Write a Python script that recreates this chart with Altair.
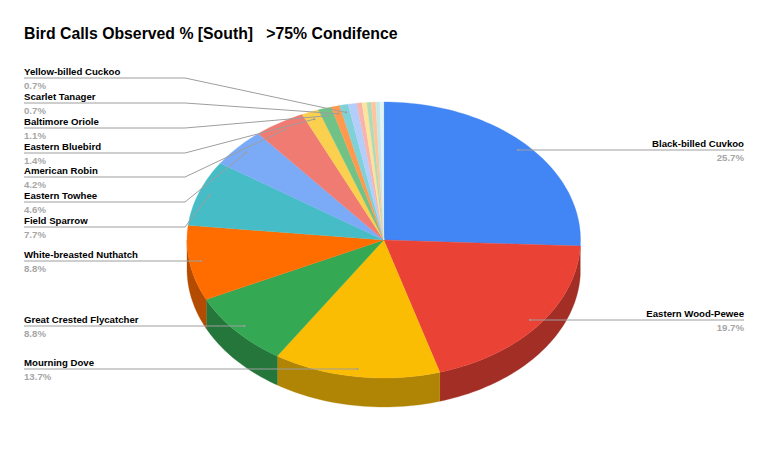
import math
import altair as alt
import pandas as pd

# --- chart values ---
names = ["Black-billed Cuvkoo", "Eastern Wood-Pewee", "Mourning Dove", "Great Crested Flycatcher",
         "White-breasted Nuthatch", "Field Sparrow", "Eastern Towhee", "American Robin",
         "Eastern Bluebird", "Baltimore Oriole", "Scarlet Tanager", "Yellow-billed Cuckoo",
         "Other A", "Other B", "Other C", "Other D", "Other E", "Other F", "Other G"]
shares = [25.7, 19.7, 13.7, 8.8, 8.8, 7.7, 4.6, 4.2, 1.4, 1.1, 0.7, 0.7, 0.7, 0.43, 0.4, 0.35, 0.37, 0.34, 0.31]
colors = ["#4285f4", "#ea4335", "#fbbc04", "#34a853", "#ff6d01", "#46bdc6", "#7baaf7", "#f07b72",
          "#fcd04f", "#71c287", "#ff994d", "#7ed1d7", "#b3cefb", "#f7b4ae", "#fde49b", "#aedcba",
          "#ffc599", "#c4e8ea", "#e3f2f3"]
walls = {1: "#a32e25", 2: "#b08404", 3: "#24763a", 4: "#b34c00"}
labelled = 12

# --- layout of the picture (reference pixels) ---
CX, CY, RX, RY, DEPTH = 383.75, 240.0, 196.75, 138.0, 29.0
LEADER_R = 0.944
left_rows = {11: 78, 10: 103, 9: 128, 8: 153, 7: 177, 6: 202, 5: 227, 4: 261, 3: 326, 2: 369}
right_rows = {0: 150, 1: 320}
LEFT_X, ELBOW_X, RIGHT_X = 24, 185, 744
W, H = 752, 459

x_scale = alt.Scale(domain=[8, 8 + W], range=[0, W], nice=False, zero=False)
y_scale = alt.Scale(domain=[8, 8 + H], range=[0, H], nice=False, zero=False)
X = alt.X("x:Q", scale=x_scale, axis=None)
Y = alt.Y("y:Q", scale=y_scale, axis=None)


def ell(deg, r=1.0, dy=0.0):
    a = math.radians(deg)
    return CX + RX * r * math.sin(a), CY - RY * r * math.cos(a) + dy


def polygon(points, colour):
    df = pd.DataFrame([{"x": p[0], "y": p[1], "i": i} for i, p in enumerate(points + points[:1])])
    return alt.Chart(df).mark_line(fill=colour, stroke=colour, strokeWidth=0.3, interpolate="linear").encode(
        x=X, y=Y, order="i:Q")


layers = []
cum = 0.0
bounds = []
for s in shares:
    bounds.append((cum * 3.6, (cum + s) * 3.6))
    cum += s
scale_full = 100.0 / cum
bounds = [(a * scale_full, b * scale_full) for a, b in bounds]


def arc_pts(a, b, dy=0.0):
    n = max(2, int(abs(b - a) / 1.5) + 2)
    return [ell(a + (b - a) * k / (n - 1), 1.0, dy) for k in range(n)]


for i, colour in walls.items():
    a, b = bounds[i]
    b = min(b, 270.0)
    layers.append(polygon(arc_pts(a, b) + arc_pts(b, a, DEPTH), colour))

for (a, b), colour in zip(bounds, colors):
    layers.append(polygon([(CX, CY)] + arc_pts(a, b), colour))

# leaders and labels
seg_rows, dot_rows, name_rows, value_rows = [], [], [], []
for i in range(labelled):
    mid = sum(bounds[i]) / 2
    px, py = ell(mid, LEADER_R)
    if i in right_rows:
        ly = right_rows[i]
        path = [(RIGHT_X, ly), (px, ly)]
        tx, align = RIGHT_X, "right"
    else:
        ly = left_rows[i]
        if i <= 4:
            path = [(LEFT_X, ly), (px, ly)]
        else:
            path = [(LEFT_X, ly), (ELBOW_X, ly), (px, py)]
        tx, align = LEFT_X, "left"
    for k, p in enumerate(path):
        seg_rows.append({"x": p[0], "y": p[1], "k": k, "id": i})
    dot_rows.append({"x": path[-1][0], "y": path[-1][1]})
    name_rows.append({"x": tx, "y": ly - 3, "t": names[i], "a": align})
    value_rows.append({"x": tx, "y": ly + 10.5, "t": f"{shares[i]}%", "a": align})

layers.append(alt.Chart(pd.DataFrame(seg_rows)).mark_line(color="#9e9e9e", strokeWidth=1).encode(
    x=X, y=Y, order="k:Q", detail="id:N"))
layers.append(alt.Chart(pd.DataFrame(dot_rows)).mark_point(filled=True, color="#9e9e9e", size=5, opacity=1).encode(x=X, y=Y))

for rows, col, weight in ((name_rows, "#000000", "bold"), (value_rows, "#a6a6a6", "bold")):
    for al in ("left", "right"):
        sub = [r for r in rows if r["a"] == al]
        layers.append(alt.Chart(pd.DataFrame(sub)).mark_text(
            align=al, baseline="alphabetic", font="Liberation Sans", fontSize=9.65, fontWeight=weight, color=col
        ).encode(x=X, y=Y, text="t:N"))

title_df = pd.DataFrame([{"x": 24, "y": 38.5, "t": "Bird Calls Observed % [South]\u00a0\u00a0\u00a0>75% Condifence"}])
layers.append(alt.Chart(title_df).mark_text(
    align="left", baseline="alphabetic", font="Liberation Sans", fontSize=15.8, fontWeight="bold", color="#000000"
).encode(x=X, y=Y, text="t:N"))

chart = alt.layer(*layers).properties(width=W, height=H, padding=0, background="#ffffff").configure_view(stroke=None)
chart.save("out.html", embed_options={"renderer": "svg", "actions": False})
